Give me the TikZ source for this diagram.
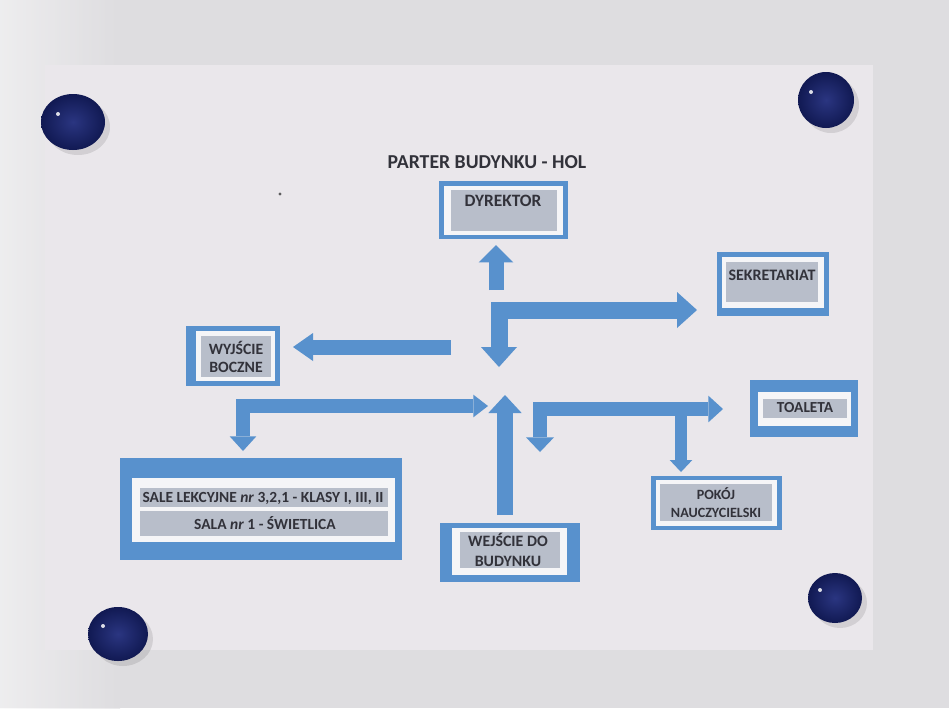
\documentclass[tikz,border=0pt]{standalone}
\usepackage{fontspec}
\setmainfont{Carlito}
\usetikzlibrary{arrows.meta,fit}
\definecolor{bl}{RGB}{88,145,205}
\definecolor{gr}{RGB}{184,190,202}
\definecolor{wh}{RGB}{245,245,247}
\definecolor{paper}{RGB}{234,231,235}
\definecolor{wall}{RGB}{222,221,224}
\definecolor{ink}{RGB}{50,50,58}
\definecolor{mag}{RGB}{24,36,118}
\tikzset{
  fat/.style={draw=bl, line width=#1, line join=miter, line cap=butt},
  lbl/.style={font=\bfseries\fontsize{11.8}{13.5}\selectfont, text=ink, inner sep=0pt, align=center},
  outerbox/.style={fill=bl, draw=none, inner sep=0pt},
  innerbox/.style={fill=wh, draw=none, inner sep=0pt},
  graybox/.style={fill=gr, draw=none, inner sep=0pt}
}
\begin{document}
\begin{tikzpicture}[x=0.75pt,y=-0.75pt]
\useasboundingbox (0,0) rectangle (949,708);
% wall and paper
\fill[wall] (0,0) rectangle (949,708);
\shade[left color=white!80!wall, right color=wall, opacity=0.6] (0,0) rectangle (120,708);
\fill[paper] (45,65) rectangle (873,650);
\fill[black, opacity=0.6] (280,194) circle [radius=1.6];

% magnets
\foreach \cx/\cy/\rx/\ry in {73/122/32/28, 826/100/28/28, 118/634/30/27, 835/598/27/25}{
  \fill[black, opacity=0.10] (\cx+5,\cy+5) ellipse [x radius=\rx, y radius=\ry];
  \shade[inner color=mag!92!white, outer color=mag!70!black] (\cx,\cy) ellipse [x radius=\rx, y radius=\ry];
  \fill[white, opacity=0.85] (\cx-15,\cy-8) circle [radius=2];
}

% title
\node[font=\bfseries\fontsize{14.8}{17}\selectfont, text=ink, inner sep=0pt] (title) at (487,162) {PARTER BUDYNKU - HOL};

% DYREKTOR
\node[outerbox, fit={(439,181)(568,239)}] (dyrB) {};
\node[innerbox, fit={(444,186)(563,235)}] {};
\node[graybox, fit={(451,190)(557,231)}] {};
\node[lbl, font=\bfseries\fontsize{13}{15}\selectfont] (dyr) at (503,201) {DYREKTOR};

% SEKRETARIAT
\node[outerbox, fit={(717,252)(829,316)}] (sekB) {};
\node[innerbox, fit={(722,257)(824,308)}] {};
\node[graybox, fit={(726,262)(818,302)}] {};
\node[lbl, font=\bfseries\fontsize{12}{14}\selectfont] (sek) at (772,275) {SEKRETARIAT};

% WYJSCIE BOCZNE
\node[outerbox, fit={(186,326)(280,386)}] (wyjB) {};
\node[innerbox, fit={(196,331)(275,381)}] {};
\node[graybox, fit={(201,336)(271,377)}] {};
\node[lbl] (wyj) at (236,357) {WYJŚCIE\\BOCZNE};

% TOALETA
\node[outerbox, fit={(750,380)(858,437)}] (toaB) {};
\node[innerbox, fit={(758,392)(851,426)}] {};
\node[graybox, fit={(763,399)(847,418)}] {};
\node[lbl, font=\bfseries\fontsize{11.5}{14}\selectfont] (toa) at (805,408) {TOALETA};

% POKOJ NAUCZYCIELSKI
\node[outerbox, fit={(651,476)(782,530)}] (pokB) {};
\node[innerbox, fit={(656,480)(777,526)}] {};
\node[graybox, fit={(660,484)(772,521)}] {};
\node[lbl, font=\bfseries\fontsize{10.6}{13.5}\selectfont] (pok) at (716,503) {POKÓJ\\NAUCZYCIELSKI};

% WEJSCIE DO BUDYNKU
\node[outerbox, fit={(440,523)(580,582)}] (wejB) {};
\node[innerbox, fit={(452,528)(567,575)}] {};
\node[graybox, fit={(460,532)(560,568)}] {};
\node[lbl, font=\bfseries\fontsize{11.9}{15}\selectfont] (wej) at (508,550) {WEJŚCIE DO\\BUDYNKU};

% SALE
\node[outerbox, fit={(120,458)(402,560)}] (saleB) {};
\node[innerbox, fit={(132,478)(395,542)}] {};
\node[graybox, fit={(140,488)(388,507)}] {};
\node[graybox, fit={(140,511)(388,536)}] {};
\node[lbl, font=\bfseries\fontsize{11.6}{13}\selectfont] (sale1) at (263,498) {SALE LEKCYJNE \textit{nr} 3,2,1 - KLASY I, III, II};
\node[lbl, font=\bfseries\fontsize{11.6}{13}\selectfont] (sale2) at (265,523) {SALA \textit{nr} 1 - ŚWIETLICA};

% arrow coordinates
\coordinate (c0) at (496,290);
\coordinate (cDyr) at (496,245);
\coordinate (cSekDown) at (499,367);
\coordinate (cSek) at (697,310);
\coordinate (cWyjStart) at (451,347);
\coordinate (cWyj) at (293,347);
\coordinate (cSaleDown) at (243,451);
\coordinate (cSaleRight) at (488,406);
\coordinate (cWejStart) at (505,515);
\coordinate (cWejTip) at (505,395);
\coordinate (cToaDown) at (540,452);
\coordinate (cToa) at (723,409);
\coordinate (cPokStart) at (681,404);
\coordinate (cPok) at (681,472);

% arrows
\draw[fat=11.25pt, -{Triangle[length=13pt,width=26pt,line width=0pt]}] (c0) -- (cDyr);
\draw[fat=12.75pt, {Triangle[length=15pt,width=27pt,line width=0pt]}-{Triangle[length=15pt,width=27pt,line width=0pt]}] (cSekDown) |- (cSek);
\draw[fat=11.25pt, -{Triangle[length=15pt,width=21pt,line width=0pt]}] (cWyjStart) -- (cWyj);
\draw[fat=10.5pt, {Triangle[length=11pt,width=20pt,line width=0pt]}-{Triangle[length=11pt,width=17pt,line width=0pt]}] (cSaleDown) |- (cSaleRight);
\draw[fat=12pt, -{Triangle[length=13.5pt,width=25pt,line width=0pt]}] (cWejStart) -- (cWejTip);
\draw[fat=10pt, {Triangle[length=11pt,width=21pt,line width=0pt]}-{Triangle[length=11pt,width=20pt,line width=0pt]}] (cToaDown) |- (cToa);
\draw[fat=9pt, -{Triangle[length=9pt,width=17pt,line width=0pt]}] (cPokStart) -- (cPok);
\end{tikzpicture}
\end{document}
